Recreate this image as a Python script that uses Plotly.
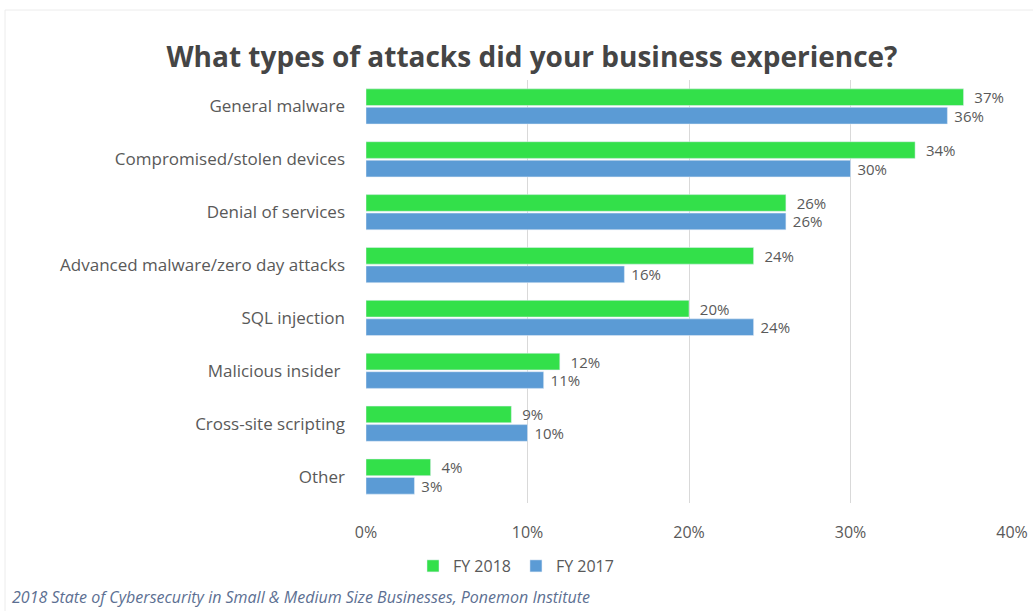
import plotly.graph_objects as go

categories = ["General malware", "Compromised/stolen devices", "Denial of services",
              "Advanced malware/zero day attacks", "SQL injection", "Malicious insider ",
              "Cross-site scripting", "Other"]
fy2018 = [37, 34, 26, 24, 20, 12, 9, 4]
fy2017 = [36, 30, 26, 16, 24, 11, 10, 3]
x_ticks = [0, 10, 20, 30, 40]
x_tick_labels = ["0%", "10%", "20%", "30%", "40%"]

GREEN = "#33e04a"
BLUE = "#5b9bd5"
GRAY = "#595959"
FONT = "Open Sans"

W, H = 1033, 611
L, R, T, B = 366, 1012, 80, 503

fig = go.Figure()
fig.add_trace(go.Bar(
    y=categories, x=fy2018, name="FY 2018", orientation="h",
    marker=dict(color=GREEN),
    text=[f"  {v}%" for v in fy2018], textposition="outside", constraintext="none",
    textfont=dict(color=GRAY, size=15, family=FONT), cliponaxis=False,
))
fig.add_trace(go.Bar(
    y=categories, x=fy2017, name="FY 2017", orientation="h",
    marker=dict(color=BLUE),
    text=[f" {v}%" for v in fy2017], textposition="outside", constraintext="none",
    textfont=dict(color=GRAY, size=15, family=FONT), cliponaxis=False,
))

def px_x(p):
    return (p - L) / (R - L)

def px_y(p):
    return (B - p) / (B - T)

fig.update_layout(
    width=W, height=H,
    margin=dict(l=L, r=W - R, t=T, b=H - B, autoexpand=False),
    paper_bgcolor="white", plot_bgcolor="white",
    barmode="group", bargap=0.3, bargroupgap=0.1,
    font=dict(family=FONT, color=GRAY, size=16),
    title=dict(text="<b>What types of attacks did your business experience?</b>",
               x=532 / W, xanchor="center", y=1 - 57 / H, yanchor="middle",
               yref="container", font=dict(size=28, color="#454545", family=FONT)),
    xaxis=dict(range=[0, 40], tickvals=x_ticks, ticktext=x_tick_labels,
               showgrid=True, gridcolor="#d9d9d9", gridwidth=1, zeroline=False,
               showline=False, ticks="", tickfont=dict(size=16, color=GRAY),
               ticklabelstandoff=18),
    yaxis=dict(autorange="reversed", showgrid=False, showline=False, ticks="",
               tickfont=dict(size=17, color=GRAY), ticklabelstandoff=20),
    legend=dict(orientation="h", x=px_x(516), xanchor="center",
                y=px_y(566), yanchor="middle", font=dict(size=16, color=GRAY),
                traceorder="normal", itemwidth=30),
    showlegend=True,
)

fig.add_annotation(
    text="<i>2018 State of Cybersecurity in Small & Medium Size Businesses, Ponemon Institute</i>",
    xref="paper", yref="paper", x=px_x(10), y=px_y(597), xanchor="left", yanchor="middle",
    showarrow=False, font=dict(size=16, color="#5c6f92", family=FONT),
)

# faint outer frame
fig.add_shape(type="line", xref="paper", yref="paper", x0=px_x(5), x1=px_x(1033),
              y0=px_y(10), y1=px_y(10), line=dict(color="#ececec", width=1))
fig.add_shape(type="line", xref="paper", yref="paper", x0=px_x(5), x1=px_x(5),
              y0=px_y(10), y1=px_y(611), line=dict(color="#ececec", width=1))

fig.write_html("out.html")
